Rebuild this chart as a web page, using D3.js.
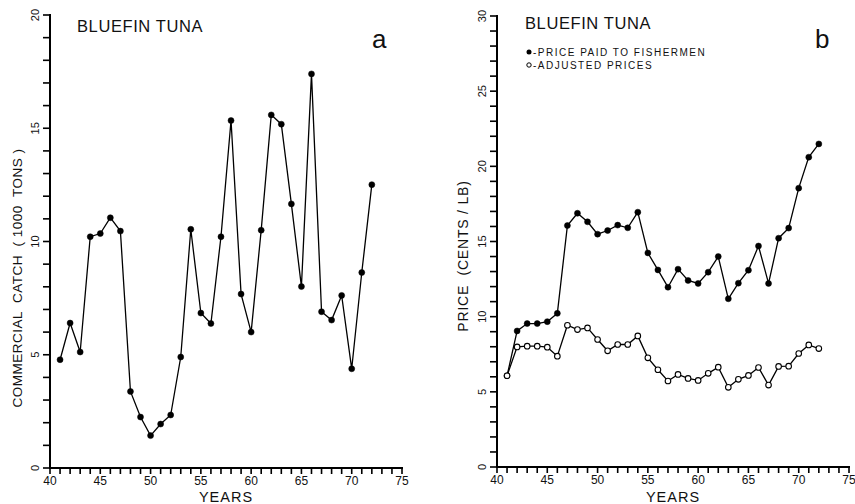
<!DOCTYPE html>
<html><head><meta charset="utf-8">
<script src="https://cdn.jsdelivr.net/npm/d3@7"></script>
<style>body{margin:0;background:#fff}svg{display:block}</style>
</head><body><svg id="c" width="855" height="504"></svg>
<script>
const years = d3.range(41, 73);
const catchVals = [4.78,6.4,5.12,10.21,10.35,11.05,10.46,3.38,2.25,1.43,1.94,2.34,4.9,10.54,6.84,6.38,10.21,15.34,7.68,6.0,10.5,15.59,15.18,11.66,8.01,17.4,6.9,6.53,7.62,4.38,8.63,12.51];
const pricePaid = [6.07,9.05,9.54,9.54,9.67,10.22,16.06,16.88,16.31,15.49,15.73,16.09,15.91,16.95,14.24,13.11,11.96,13.16,12.41,12.21,12.96,14.0,11.19,12.23,13.09,14.7,12.21,15.22,15.89,18.55,20.61,21.49];
const adjPrice = [6.07,7.99,8.04,8.04,7.97,7.37,9.43,9.14,9.25,8.48,7.73,8.15,8.15,8.72,7.26,6.47,5.72,6.16,5.89,5.76,6.23,6.64,5.3,5.83,6.09,6.62,5.45,6.69,6.71,7.55,8.12,7.88];
const xTicks = [40,45,50,55,60,65,70,75];
const yTicksA = [0,5,10,15,20];
const yTicksB = [0,5,10,15,20,25,30];

const svg = d3.select("#c");
const ink = "#000";
const FONT = "Liberation Sans, Arial, sans-serif";

function txt(g){ return g.append("text").attr("font-family",FONT).attr("fill","#111"); }

function panel(o){
  const g = svg.append("g");
  const x = d3.scaleLinear().domain([40,75]).range([o.x0,o.x1]);
  const y = d3.scaleLinear().domain([0,o.ymax]).range([o.y0,o.y1]);
  // x ticks every year (rects)
  g.selectAll(null).data(d3.range(40,76)).join("rect")
    .attr("x",d=>x(d)-0.8).attr("y",o.y0).attr("width",1.6).attr("height",6).attr("fill",ink);
  g.append("rect").attr("x",x(40)-1).attr("y",o.y0-1).attr("width",x(75)-x(40)+2).attr("height",2).attr("fill",ink);
  g.selectAll(null).data(xTicks).join("text").attr("font-family",FONT).attr("fill","#111")
    .attr("x",d=>x(d)).attr("y",o.y0+17).attr("text-anchor","middle").attr("font-size",12).text(d=>d);
  // y ticks every unit (rects)
  g.selectAll(null).data(d3.range(0,o.ymax+1)).join("rect")
    .attr("x",o.x0-7).attr("y",d=>y(d)-0.8).attr("width",7).attr("height",1.6).attr("fill",ink);
  g.append("rect").attr("x",o.x0-1).attr("y",y(o.ymax)-1).attr("width",2).attr("height",y(0)-y(o.ymax)+2).attr("fill",ink);
  g.selectAll(null).data(o.yt).join("text").attr("font-family",FONT).attr("fill","#111")
    .attr("transform",d=>`translate(${o.x0-11},${y(d)}) rotate(-90)`)
    .attr("text-anchor","middle").attr("font-size",11).text(d=>d);
  // labels
  txt(g).attr("x",(o.x0+o.x1)/2).attr("y",502).attr("text-anchor","middle")
    .attr("font-size",14.5).attr("letter-spacing",1).text("YEARS");
  txt(g).attr("transform",`translate(${o.lx},${o.ly}) rotate(-90)`)
    .attr("text-anchor","middle").attr("font-size",o.lfs).attr("letter-spacing",o.lls).attr("xml:space","preserve").text(o.ylabel);
  txt(g).attr("x",o.tx).attr("y",o.ty).attr("font-size",16.5).attr("letter-spacing",0.6).text("BLUEFIN TUNA");
  txt(g).attr("x",o.px).attr("y",48).attr("font-size",26).text(o.letter);
  return {g,x,y};
}

function series(p, vals, filled){
  const line = d3.line().x((d,i)=>p.x(years[i])).y(d=>p.y(d));
  p.g.append("path").datum(vals).attr("d",line).attr("fill","none").attr("stroke",ink).attr("stroke-width",1.3);
  p.g.selectAll(null).data(vals).join("circle")
    .attr("cx",(d,i)=>p.x(years[i])).attr("cy",d=>p.y(d)).attr("r",filled?3:2.8)
    .attr("fill",filled?ink:"#fff").attr("stroke",ink).attr("stroke-width",filled?0.5:1.1);
}

const A = panel({x0:50,x1:402,y0:468,y1:15,ymax:20,yt:yTicksA,lx:22,ly:278,lfs:13.5,lls:0.5,
  ylabel:"COMMERCIAL  CATCH  ( 1000  TONS )",tx:77,ty:32,px:372,letter:"a"});
series(A, catchVals, true);

const B = panel({x0:497,x1:849,y0:467,y1:16,ymax:30,yt:yTicksB,lx:468,ly:256,lfs:14,lls:0.8,
  ylabel:"PRICE  (CENTS / LB)",tx:525,ty:29,px:815,letter:"b"});
series(B, pricePaid, true);
series(B, adjPrice, false);

// legend
const leg = B.g.append("g");
leg.append("circle").attr("cx",529).attr("cy",52).attr("r",2.5).attr("fill",ink);
txt(leg).attr("x",533).attr("y",55.5).attr("font-size",10).attr("letter-spacing",1.5).text("-PRICE  PAID  TO  FISHERMEN");
leg.append("circle").attr("cx",529).attr("cy",65).attr("r",2.2).attr("fill","#fff").attr("stroke",ink).attr("stroke-width",1);
txt(leg).attr("x",533).attr("y",68.5).attr("font-size",10).attr("letter-spacing",1.5).text("-ADJUSTED  PRICES");
</script></body></html>
